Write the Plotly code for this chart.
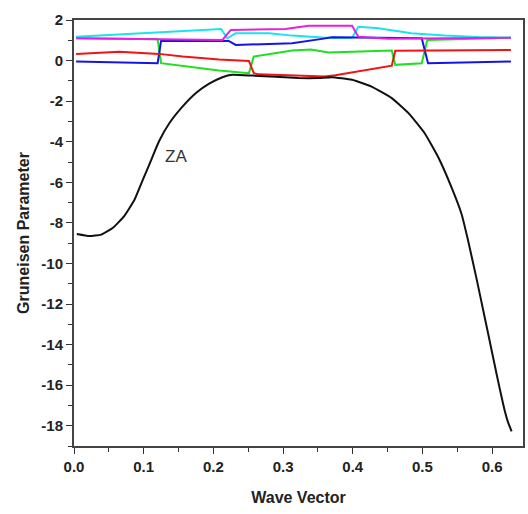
import plotly.graph_objects as go

# ZA branch (black)
za_x = [0.004, 0.022, 0.039, 0.056, 0.072, 0.087, 0.099, 0.111, 0.122, 0.137, 0.156, 0.175,
        0.194, 0.213, 0.227, 0.256, 0.322, 0.351, 0.370, 0.399, 0.427, 0.456, 0.480, 0.503,
        0.522, 0.541, 0.556, 0.565, 0.577, 0.589, 0.600, 0.607, 0.613, 0.618, 0.623, 0.628]
za_y = [-8.55, -8.65, -8.58, -8.24, -7.67, -6.85, -5.86, -4.88, -3.98, -3.08, -2.26, -1.60,
        -1.14, -0.82, -0.70, -0.74, -0.86, -0.86, -0.82, -0.95, -1.28, -1.85, -2.59, -3.57,
        -4.72, -6.19, -7.55, -8.80, -10.65, -12.60, -14.40, -15.55, -16.50, -17.25, -17.85, -18.28]

# other branches
green_x = [0.003, 0.120, 0.125, 0.208, 0.251, 0.258, 0.313, 0.340, 0.365, 0.456, 0.461, 0.499, 0.507, 0.627]
green_y = [1.10, 1.05, -0.13, -0.49, -0.62, 0.20, 0.50, 0.55, 0.40, 0.50, -0.21, -0.13, 1.02, 1.13]

cyan_x = [0.003, 0.211, 0.220, 0.232, 0.280, 0.313, 0.361, 0.399, 0.408, 0.437, 0.484, 0.532, 0.580, 0.627]
cyan_y = [1.18, 1.56, 1.10, 1.35, 1.35, 1.23, 1.13, 1.13, 1.67, 1.59, 1.35, 1.23, 1.16, 1.13]

blue_x = [0.003, 0.120, 0.125, 0.222, 0.232, 0.280, 0.313, 0.356, 0.370, 0.499, 0.508, 0.627]
blue_y = [-0.05, -0.13, 0.98, 0.97, 0.77, 0.81, 0.85, 1.07, 1.15, 1.10, -0.13, -0.05]

red_x = [0.003, 0.065, 0.122, 0.156, 0.208, 0.251, 0.258, 0.265, 0.360, 0.375, 0.456, 0.461, 0.627]
red_y = [0.33, 0.43, 0.33, 0.20, 0.05, -0.02, -0.62, -0.68, -0.79, -0.72, -0.25, 0.48, 0.52]

magenta_x = [0.003, 0.208, 0.213, 0.225, 0.280, 0.303, 0.337, 0.399, 0.408, 0.451, 0.627]
magenta_y = [1.10, 1.02, 1.02, 1.51, 1.56, 1.56, 1.72, 1.72, 1.18, 1.08, 1.12]

x_ticks = [0.0, 0.1, 0.2, 0.3, 0.4, 0.5, 0.6]
y_ticks = [2, 0, -2, -4, -6, -8, -10, -12, -14, -16, -18]

fig = go.Figure()
for xs, ys, col in [(green_x, green_y, "#1ee01e"), (cyan_x, cyan_y, "#19e3f0"),
                    (blue_x, blue_y, "#1414e6"), (red_x, red_y, "#f01414"),
                    (magenta_x, magenta_y, "#e61ee6")]:
    fig.add_trace(go.Scatter(x=xs, y=ys, mode="lines", line=dict(color=col, width=2),
                             showlegend=False, hoverinfo="skip"))
fig.add_trace(go.Scatter(x=za_x, y=za_y, mode="lines",
                         line=dict(color="#111111", width=2, shape="spline", smoothing=0.4),
                         showlegend=False, hoverinfo="skip"))

fig.add_annotation(x=0.147, y=-4.73, text="ZA", showarrow=False,
                   font=dict(family="Liberation Sans, Arial", size=17, color="#333333"))

tickfont = dict(family="Liberation Sans, Arial", size=15, color="#222222", weight="bold")
fig.update_layout(
    width=528, height=514,
    margin=dict(l=74, r=3, t=20, b=68),
    paper_bgcolor="white", plot_bgcolor="white",
    xaxis=dict(range=[0, 0.6443], tickvals=x_ticks, ticktext=[f"{v:.1f}" for v in x_ticks],
               ticks="outside", ticklen=6, tickwidth=1.3, tickcolor="#333333",
               minor=dict(dtick=0.05, tick0=0, ticks="outside", ticklen=4, tickwidth=1.2, tickcolor="#333333"),
               showline=True, linecolor="#444444", linewidth=2, mirror=True,
               showgrid=False, zeroline=False, tickfont=tickfont,
               title=dict(text="Wave Vector", standoff=18,
                          font=dict(family="Liberation Sans, Arial", size=16, color="#222222", weight="bold"))),
    yaxis=dict(range=[-19, 2], tickvals=y_ticks, ticktext=[str(v) for v in y_ticks],
               ticks="outside", ticklen=6, tickwidth=1.3, tickcolor="#333333",
               minor=dict(dtick=1, tick0=0, ticks="outside", ticklen=4, tickwidth=1.2, tickcolor="#333333"),
               showline=True, linecolor="#444444", linewidth=2, mirror=True,
               showgrid=False, zeroline=False, tickfont=tickfont,
               title=dict(text="Gruneisen Parameter", standoff=8,
                          font=dict(family="Liberation Sans, Arial", size=16, color="#222222", weight="bold"))),
)
fig.write_html("out.html")
